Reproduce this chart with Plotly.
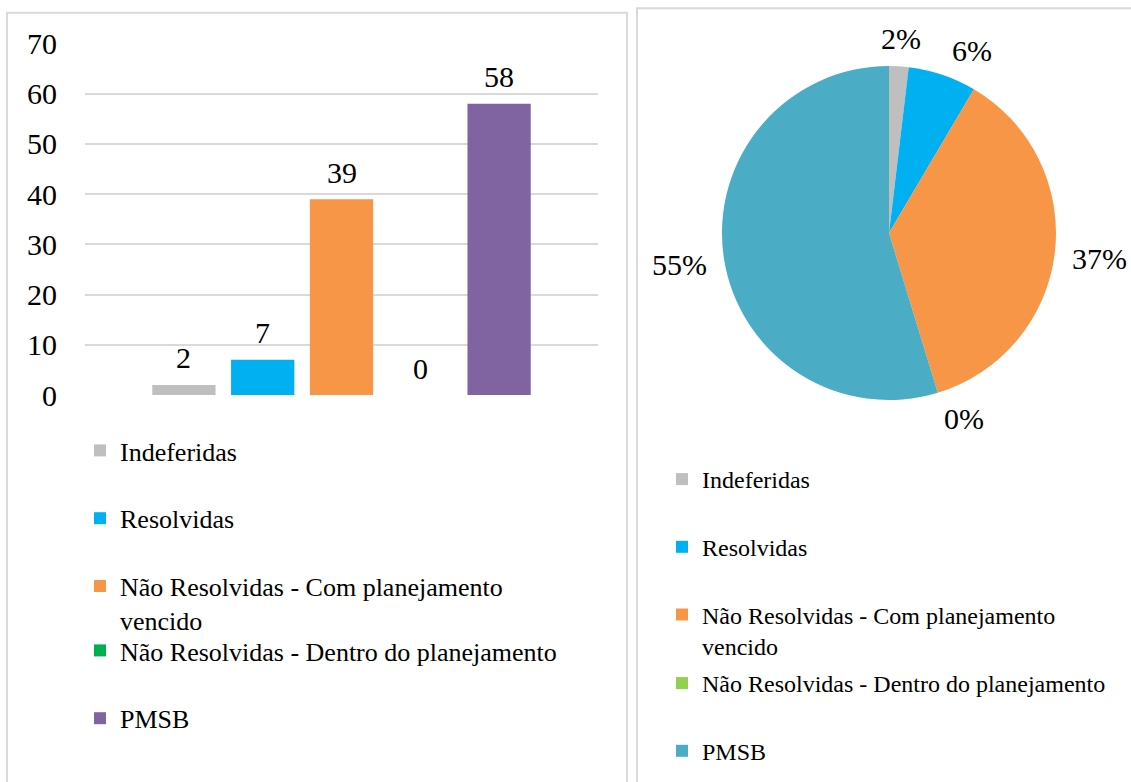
import math
import plotly.graph_objects as go

# ---- data ----
series_names = [
    "Indeferidas",
    "Resolvidas",
    "Não Resolvidas - Com planejamento<br>vencido",
    "Não Resolvidas - Dentro do planejamento",
    "PMSB",
]
bar_values = [2, 7, 39, 0, 58]
bar_colors = ["#BFBFBF", "#00B0F0", "#F79646", "#00B050", "#8064A2"]

pie_values = [2, 7, 39, 0, 58]
pie_text = ["2%", "6%", "37%", "0%", "55%"]
pie_colors = ["#BFBFBF", "#00B0F0", "#F79646", "#92D050", "#4BACC6"]

y_ticks = [0, 10, 20, 30, 40, 50, 60, 70]
category = ["Total"]

# ---- style ----
FONT = "Liberation Serif"
W, H = 1131, 782
BARGAP, BARGROUPGAP = 0.232, 0.197
PIE_L, PIE_R, PIE_T, PIE_B = 722, 1056, 66, 400   # pie box in pixels
PIE_LABEL_NUDGE_DEG = [0, 5.7, 0, -5, 0]           # label angle nudges (as in source)

fig = go.Figure()

# bar traces (one per series, clustered in one category)
n_series = len(bar_values)
group_w = 1 - BARGAP
slot = group_w / n_series
annotations = []
for i, (n, v, c) in enumerate(zip(series_names, bar_values, bar_colors)):
    fig.add_trace(go.Bar(
        x=category, y=[v], name=n, marker=dict(color=c, line=dict(width=0)),
        legend="legend" if i < 3 else "legend3",
        legendgroup="b%d" % i,
        hoverinfo="y+name",
    ))
    # value label above each bar
    annotations.append(dict(
        x=-group_w / 2 + slot * (i + 0.5), y=v, xref="x", yref="y",
        text=str(v), showarrow=False, xanchor="center", yanchor="middle",
        yshift=27, font=dict(family=FONT, size=30, color="#000000"),
    ))

# pie
fig.add_trace(go.Pie(
    values=pie_values, labels=[n.replace("<br>", " ") for n in series_names],
    text=pie_text, textinfo="none",
    marker=dict(colors=pie_colors, line=dict(width=0)),
    sort=False, direction="clockwise", rotation=0,
    domain=dict(x=[PIE_L / W, PIE_R / W], y=[1 - PIE_B / H, 1 - PIE_T / H]),
    showlegend=False,
))

# outside labels of the pie, placed along each slice's mid angle
total = float(sum(pie_values))
cx, cy = (PIE_L + PIE_R) / 2, (PIE_T + PIE_B) / 2
rad = (PIE_R - PIE_L) / 2
cum = 0.0
for v, t, nudge in zip(pie_values, pie_text, PIE_LABEL_NUDGE_DEG):
    mid = 2 * math.pi * (cum + v / 2) / total + math.radians(nudge)
    cum += v
    sx, sy = math.sin(mid), -math.cos(mid)
    half_w = 9.5 * len(t)
    half_h = 12
    d = rad + half_w * abs(sx) + half_h * abs(sy) + 15
    px, py = cx + d * sx, cy + d * sy
    annotations.append(dict(
        x=px / W, y=1 - py / H, xref="paper", yref="paper",
        text=t, showarrow=False, xanchor="center", yanchor="middle",
        font=dict(family=FONT, size=30, color="#000000"),
    ))

# legend entries for the pie slices
for i, (n, c) in enumerate(zip(series_names, pie_colors)):
    fig.add_trace(go.Scatter(
        x=[None], y=[None], mode="markers", name=n,
        marker=dict(symbol="square", size=12, color=c),
        legend="legend2" if i < 3 else "legend4",
        legendgroup="p%d" % i, hoverinfo="skip",
    ))

legend_common = dict(
    font=dict(family=FONT, size=26, color="#000000"),
    bgcolor="rgba(0,0,0,0)", xanchor="left", yanchor="top",
    valign="top", tracegroupgap=31, orientation="v",
)
pie_leg_common = dict(legend_common, font=dict(family=FONT, size=24, color="#000000"),
                      tracegroupgap=33.5)

fig.update_layout(
    width=W, height=H, autosize=False,
    margin=dict(l=0, r=0, t=0, b=0, autoexpand=False),
    paper_bgcolor="#FFFFFF", plot_bgcolor="rgba(0,0,0,0)",
    barmode="group", bargap=BARGAP, bargroupgap=BARGROUPGAP,
    xaxis=dict(domain=[85 / W, 598 / W], showticklabels=False, showgrid=False,
               zeroline=False, showline=False, ticks="", fixedrange=True,
               automargin=False),
    yaxis=dict(domain=[1 - 395 / H, 1 - 43.5 / H], range=[0, 70],
               tickvals=y_ticks, ticktext=[str(t) for t in y_ticks],
               tickfont=dict(family=FONT, size=30, color="#000000"),
               showgrid=True, gridcolor="#D9D9D9", gridwidth=1.5,
               zeroline=False, showline=False, ticks="", ticklabelstandoff=27,
               automargin=False),
    legend=dict(legend_common, x=80 / W, y=1 - 427 / H),
    legend3=dict(legend_common, x=80 / W, y=1 - 627 / H),
    legend2=dict(pie_leg_common, x=662 / W, y=1 - 457 / H),
    legend4=dict(pie_leg_common, x=662 / W, y=1 - 661 / H),
    showlegend=True,
    annotations=annotations,
    shapes=[
        dict(type="rect", xref="paper", yref="paper",
             x0=7 / W, x1=627 / W, y0=-0.05, y1=1 - 12.7 / H,
             line=dict(color="#D9D9D9", width=2), fillcolor="rgba(0,0,0,0)",
             layer="below"),
        dict(type="rect", xref="paper", yref="paper",
             x0=637 / W, x1=1.05, y0=-0.05, y1=1 - 8.3 / H,
             line=dict(color="#D9D9D9", width=2), fillcolor="rgba(0,0,0,0)",
             layer="below"),
    ],
)

fig.write_html("out.html", config={"displayModeBar": False},
               post_script="document.body.style.margin='0px';")
